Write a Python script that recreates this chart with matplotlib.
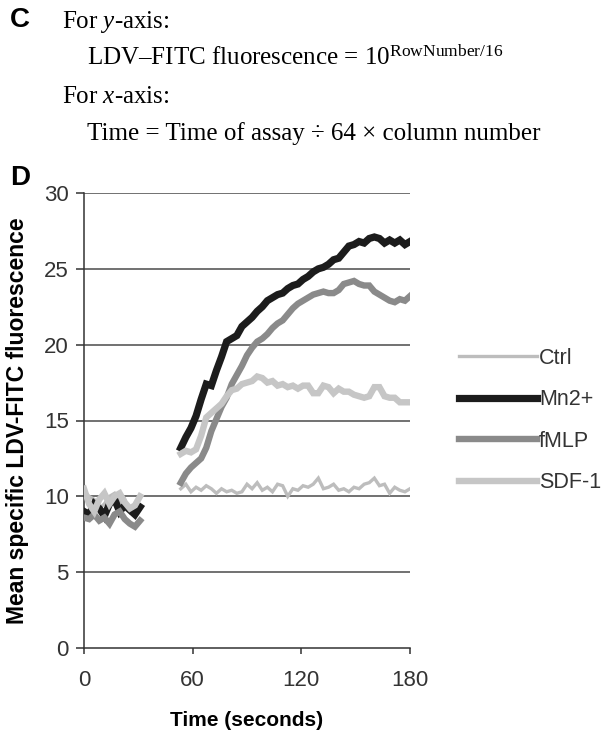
import numpy as np
import matplotlib
matplotlib.use('Agg')
import matplotlib.pyplot as plt

plt.rcParams['font.family'] = ['Liberation Sans', 'DejaVu Sans']
plt.rcParams['mathtext.fontset'] = 'custom'
plt.rcParams['mathtext.rm'] = 'Liberation Serif'
plt.rcParams['mathtext.it'] = 'Liberation Serif:italic'

# time = assay time (180 s) / 64 * column number
cols_base = np.arange(0, 12)
cols_main = np.arange(19, 65)
t_base = 180 / 64 * cols_base
t_main = 180 / 64 * cols_main

ctrl_base = [10.3, 10.0, 9.8, 9.2, 9.5, 10.0, 10.2, 9.6, 9.8, 9.0, 9.5, 10.0]
mn_base = [9.0, 8.8, 9.5, 9.2, 8.7, 9.5, 9.8, 9.0, 9.4, 9.1, 8.8, 9.3]
fmlp_base = [8.6, 8.5, 8.8, 8.4, 8.6, 8.2, 8.8, 9.0, 8.5, 8.2, 8.0, 8.4]
sdf_base = [10.5, 9.5, 9.0, 9.8, 10.2, 9.5, 10.0, 10.2, 9.6, 9.2, 9.4, 10.0]

ctrl_main = [10.5, 10.8, 10.3, 10.6, 10.4, 10.7, 10.5, 10.2, 10.5, 10.3,
             10.4, 10.2, 10.3, 10.8, 10.5, 10.9, 10.4, 10.6, 10.3, 10.8,
             10.7, 10.0, 10.5, 10.4, 10.7, 10.6, 10.8, 11.2, 10.5, 10.6,
             10.8, 10.4, 10.5, 10.3, 10.6, 10.5, 10.8, 10.9, 11.2, 10.7,
             10.8, 10.2, 10.6, 10.4, 10.3, 10.5]
mn_main = [13.2, 13.9, 14.5, 15.3, 16.4, 17.4, 17.3, 18.3, 19.2, 20.2,
           20.4, 20.6, 21.2, 21.5, 21.8, 22.2, 22.5, 22.9, 23.1, 23.3,
           23.4, 23.7, 23.9, 24.0, 24.3, 24.5, 24.8, 25.0, 25.1, 25.3,
           25.6, 25.7, 26.1, 26.5, 26.6, 26.8, 26.7, 27.0, 27.1, 27.0,
           26.7, 26.9, 26.7, 26.9, 26.6, 26.8]
fmlp_main = [10.9, 11.5, 11.9, 12.2, 12.5, 13.2, 14.3, 15.1, 15.9, 16.5,
             17.4, 18.0, 18.6, 19.3, 19.8, 20.2, 20.4, 20.7, 21.1, 21.4,
             21.6, 22.0, 22.4, 22.7, 22.9, 23.1, 23.3, 23.4, 23.5, 23.4,
             23.4, 23.6, 24.0, 24.1, 24.2, 24.0, 23.9, 23.9, 23.5, 23.3,
             23.1, 22.9, 22.8, 23.0, 22.9, 23.2]
sdf_main = [12.8, 13.0, 12.9, 13.1, 14.0, 15.2, 15.5, 15.8, 16.1, 16.6,
            17.0, 17.1, 17.4, 17.5, 17.6, 17.9, 17.8, 17.5, 17.6, 17.3,
            17.4, 17.2, 17.3, 17.1, 17.3, 17.3, 16.8, 16.8, 17.3, 17.2,
            16.8, 17.1, 16.9, 16.9, 16.7, 16.6, 16.5, 16.6, 17.2, 17.2,
            16.6, 16.5, 16.5, 16.2, 16.2, 16.2]

labels = ['Ctrl', 'Mn2+', 'fMLP', 'SDF-1']
colors = ['#bdbdbd', '#1c1c1c', '#8a8a8a', '#c6c6c6']
widths = [2.4, 5.2, 4.6, 4.6]
base = [ctrl_base, mn_base, fmlp_base, sdf_base]
main = [ctrl_main, mn_main, fmlp_main, sdf_main]

fig = plt.figure(figsize=(6.01, 7.38), dpi=100)
ax = fig.add_axes([84 / 601, 1 - 648 / 738, 326 / 601, 455 / 738])

for y in range(5, 35, 5):
    ax.axhline(y, color='#4a4a4a', lw=1.1, zorder=1)

handles = []
for lab, c, w, yb, ym in zip(labels, colors, widths, base, main):
    ax.plot(t_base, yb, color=c, lw=w, solid_joinstyle='miter', zorder=3)
    h, = ax.plot(t_main, ym, color=c, lw=w, solid_joinstyle='miter', zorder=3, label=lab)
    handles.append(h)

ax.set_xlim(0, 180)
ax.set_ylim(0, 30)
ax.set_xticks([0, 60, 120, 180])
ax.set_yticks(range(0, 35, 5))
for s in ['top', 'right']:
    ax.spines[s].set_visible(False)
for s in ['left', 'bottom']:
    ax.spines[s].set_color('#333333')
    ax.spines[s].set_linewidth(1.1)
ax.tick_params(axis='y', length=6, width=1.1, color='#333333', labelsize=16, pad=5, labelcolor='#333333')
ax.tick_params(axis='x', length=4, width=1.1, color='#333333', labelsize=16, pad=12, labelcolor='#333333')
ax.set_xlabel('Time (seconds)', fontsize=15, fontweight='bold', labelpad=14)
ax.set_ylabel('Mean specific LDV-FITC fluorescence', fontsize=16.5, fontweight='bold', labelpad=11)

leg = fig.legend(handles=handles, loc='upper left', bbox_to_anchor=(459 / 601, 1 - 348 / 738),
                 frameon=False, fontsize=15.5, handlelength=3.6, handletextpad=0.12,
                 labelspacing=0.95, borderpad=0, borderaxespad=0)
for txt in leg.get_texts():
    txt.set_color('#333333')

# panel text above the chart
fig.text(10 / 601, 1 - 20 / 738, 'C', fontsize=20, fontweight='bold', va='center')
fig.text(10 / 601, 1 - 178 / 738, 'D', fontsize=20, fontweight='bold', va='center')
serif = dict(fontsize=18, family='Liberation Serif', va='baseline')
fig.text(62 / 601, 1 - 28 / 738, r'For $\it{y}$-axis:', **serif)
fig.text(87 / 601, 1 - 65 / 738, r'LDV–FITC fluorescence = 10$^{\rm RowNumber/16}$', **serif)
fig.text(62 / 601, 1 - 103 / 738, r'For $\it{x}$-axis:', **serif)
fig.text(87 / 601, 1 - 140 / 738, 'Time = Time of assay ÷ 64 × column number', **serif)

fig.savefig('out.png', dpi=100)
